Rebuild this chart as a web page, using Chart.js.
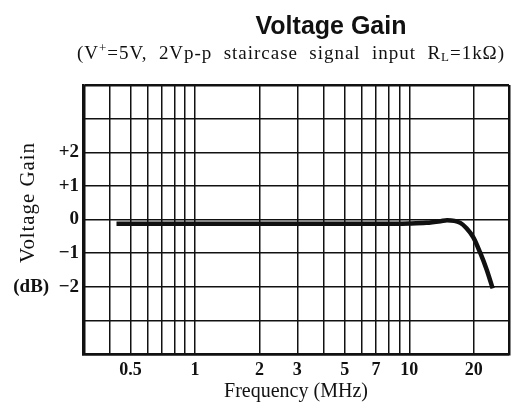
<!DOCTYPE html>
<html>
<head>
<meta charset="utf-8">
<script src="https://cdn.jsdelivr.net/npm/chart.js@4/dist/chart.umd.min.js"></script>
<style>
  body { margin: 0; background: #fff; }
  canvas { display: block; }
</style>
</head>
<body>
<canvas id="chart" width="525" height="413"></canvas>
<script>
// values
const freqs = [0.43, 0.7, 1, 2, 3, 5, 7, 10, 12, 14, 15, 17.3, 18.5, 19.9, 21.4, 23, 24.5];
const gain  = [-0.13, -0.13, -0.13, -0.13, -0.13, -0.13, -0.13, -0.12, -0.1, -0.05, -0.02, -0.1, -0.26, -0.53, -0.98, -1.5, -2.05];

const xMin = 0.305, xMax = 29.2;
const xGrid = [0.4, 0.5, 0.6, 0.7, 0.8, 0.9, 1, 2, 3, 4, 5, 6, 7, 8, 9, 10, 20];
const xLabels = [0.5, 1, 2, 3, 5, 7, 10, 20];

const yGrid = [-4, -3, -2, -1, 0, 1, 2, 3, 4];
const yLabelValues = [2, 1, 0, -1, -2];
const yLabels = ['+2', '+1', '0', '\u22121', '(dB)  \u22122'];

const titleText = 'Voltage Gain';
const subParts = [
    { t: '(V' }, { t: '+', sup: true },
    { t: '=5V,  2Vp-p  staircase  signal  input  R' }, { t: 'L', sub: true },
    { t: '=1k\u03A9)' }
];
const yTitle = 'Voltage Gain';
const xTitle = 'Frequency (MHz)';

const ink = '#111';

// draws a row of text pieces spread to a given width
function drawFitted(ctx, parts, x0, baseline, width, size) {
    ctx.letterSpacing = '0px';
    let w0 = 0, n = 0;
    parts.forEach(p => {
        ctx.font = (p.sup || p.sub ? 13 : size) + 'px "Liberation Serif"';
        w0 += ctx.measureText(p.t).width;
        n += p.t.length;
    });
    const sp = (width - w0) / n;
    ctx.letterSpacing = sp + 'px';
    let x = x0;
    parts.forEach(p => {
        ctx.font = (p.sup || p.sub ? 13 : size) + 'px "Liberation Serif"';
        let y = baseline;
        if (p.sup) y = baseline - 7;
        if (p.sub) y = baseline + 2;
        ctx.fillText(p.t, x, y);
        x += ctx.measureText(p.t).width;
    });
    ctx.letterSpacing = '0px';
}

const textPlugin = {
    id: 'texts',
    afterDraw(chart) {
        const ctx = chart.ctx;
        ctx.save();
        ctx.fillStyle = ink;
        ctx.textAlign = 'center';
        ctx.textBaseline = 'middle';
        ctx.font = 'bold 25px "Liberation Sans"';
        ctx.fillText(titleText, 331, 27);

        ctx.textAlign = 'left';
        ctx.textBaseline = 'alphabetic';
        drawFitted(ctx, subParts, 77, 59, 428, 19);

        // rotated y title
        ctx.translate(27, 203);
        ctx.rotate(-Math.PI / 2);
        drawFitted(ctx, [{ t: yTitle }], -60, 7, 121, 21);
        ctx.restore();
    }
};

const edgeWidth = (v, a, b) => (v === a || v === b) ? 2.5 : 1.5;

new Chart(document.getElementById('chart'), {
    type: 'line',
    data: {
        datasets: [{
            data: freqs.map((f, i) => ({ x: f, y: gain[i] })),
            borderColor: ink,
            borderWidth: 4.5,
            pointRadius: 0,
            cubicInterpolationMode: 'monotone',
            fill: false
        }]
    },
    options: {
        responsive: false,
        animation: false,
        layout: { padding: { top: 85, right: 16, left: 0, bottom: 0 } },
        plugins: { legend: { display: false }, tooltip: { enabled: false } },
        scales: {
            x: {
                type: 'logarithmic',
                min: xMin,
                max: xMax,
                afterBuildTicks: s => { s.ticks = [xMin, ...xGrid, xMax].map(v => ({ value: v })); },
                afterFit: s => { s.height = 59; },
                grid: {
                    color: ink,
                    lineWidth: c => edgeWidth(c.tick && c.tick.value, xMin, xMax),
                    drawTicks: false
                },
                border: { color: ink, width: 2.5 },
                ticks: {
                    autoSkip: false,
                    maxRotation: 0,
                    padding: 6,
                    color: ink,
                    font: { family: 'Liberation Serif', size: 18, weight: 'bold' },
                    callback: v => xLabels.includes(v) ? String(v) : ''
                },
                title: {
                    display: true,
                    text: xTitle,
                    color: ink,
                    font: { family: 'Liberation Serif', size: 20 },
                    padding: { top: 0, bottom: 9 }
                }
            },
            y: {
                min: -4,
                max: 4,
                afterBuildTicks: s => { s.ticks = yGrid.map(v => ({ value: v })); },
                afterFit: s => { s.width = 83; },
                grid: {
                    color: ink,
                    lineWidth: c => edgeWidth(c.tick && c.tick.value, -4, 4),
                    drawTicks: false
                },
                border: { color: ink, width: 2.5 },
                ticks: {
                    padding: 4,
                    color: ink,
                    font: { family: 'Liberation Serif', size: 19, weight: 'bold' },
                    callback: v => {
                        const i = yLabelValues.indexOf(v);
                        return i >= 0 ? yLabels[i] : '';
                    }
                }
            }
        }
    },
    plugins: [textPlugin]
});
</script>
</body>
</html>
